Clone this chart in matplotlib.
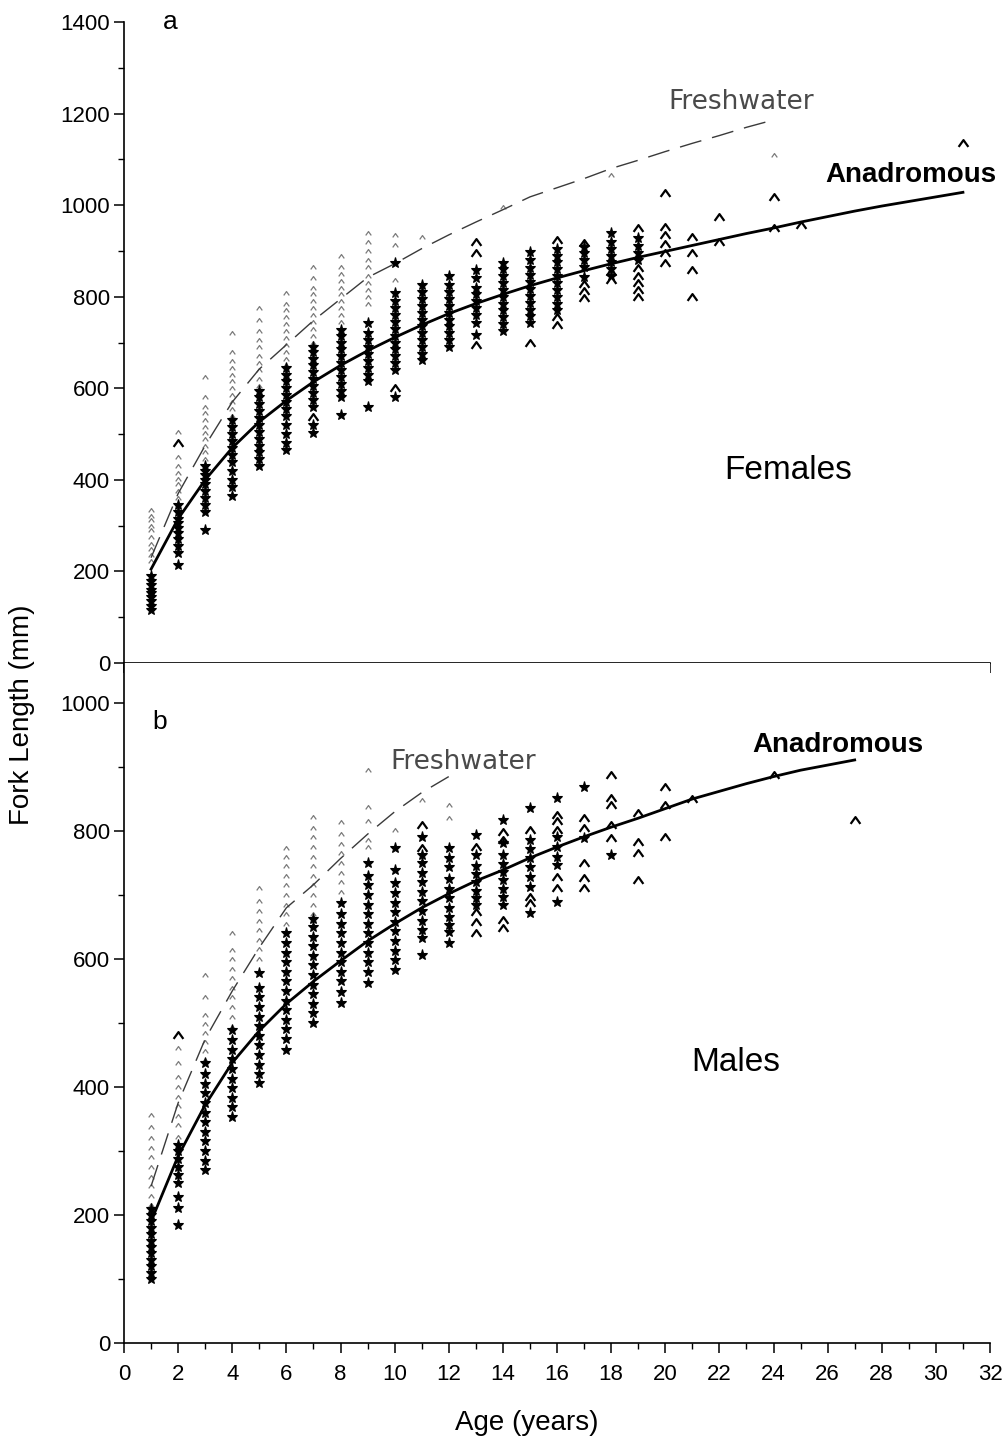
import matplotlib
matplotlib.use("Agg")
import matplotlib.pyplot as plt
from matplotlib.path import Path
from matplotlib.ticker import MultipleLocator

plt.rcParams['font.family'] = ['Liberation Sans', 'DejaVu Sans']

# ---------------- Females (panel a) ----------------
fem_star_ages = [1, 2, 3, 4, 5, 6, 7, 8, 9, 10, 11, 12, 13, 14, 15, 16, 17, 18, 19]
fem_star_vals = [
    [115, 125, 135, 145, 152, 160, 170, 180, 190],
    [215, 240, 255, 270, 285, 295, 305, 315, 330, 345],
    [290, 330, 345, 360, 375, 390, 400, 410, 420, 430],
    [365, 385, 400, 420, 440, 455, 470, 485, 500, 515, 530],
    [430, 445, 460, 475, 490, 505, 520, 535, 550, 565, 580, 595],
    [465, 480, 500, 520, 540, 555, 570, 585, 600, 615, 630, 645],
    [502, 520, 560, 575, 590, 605, 620, 635, 650, 665, 680, 690],
    [541, 580, 595, 610, 625, 640, 655, 670, 685, 700, 715, 728],
    [559, 615, 630, 645, 660, 675, 690, 705, 720, 742],
    [581, 640, 655, 670, 685, 700, 715, 730, 745, 760, 775, 790, 808, 873],
    [662, 675, 690, 705, 720, 735, 750, 765, 780, 795, 810, 825],
    [690, 705, 720, 735, 750, 765, 780, 795, 810, 825, 845],
    [716, 742, 760, 775, 790, 805, 820, 840, 858],
    [725, 740, 755, 770, 785, 800, 815, 830, 845, 860, 873],
    [742, 757, 772, 787, 802, 817, 832, 847, 862, 880, 897],
    [771, 785, 800, 815, 830, 845, 860, 875, 890, 905],
    [843, 865, 880, 895, 908],
    [845, 860, 875, 890, 905, 920, 939],
    [880, 895, 910, 928],
]
fem_caret_ages = [2, 7, 10, 13, 15, 16, 17, 18, 19, 20, 21, 22, 24, 25, 31]
fem_caret_vals = [
    [480], [537], [600], [694, 895, 919], [699], [738, 755, 923],
    [797, 812, 828, 917], [836, 855], [799, 815, 830, 845, 862, 950],
    [873, 895, 915, 935, 952, 1026], [799, 858, 895, 930], [919, 974],
    [950, 1017], [956], [1135],
]
fem_fresh_ages = [1, 2, 3, 4, 5, 6, 7, 8, 9, 10, 11, 14, 18, 24]
fem_fresh_vals = [
    [222, 235, 248, 260, 275, 290, 300, 312, 322, 335],
    [330, 345, 360, 375, 390, 402, 415, 430, 450, 505],
    [430, 445, 460, 475, 490, 502, 515, 530, 545, 560, 580, 625],
    [540, 555, 570, 585, 600, 615, 630, 645, 660, 680, 720],
    [590, 605, 620, 640, 655, 670, 690, 705, 725, 750, 775],
    [650, 665, 680, 695, 710, 725, 740, 755, 770, 785, 808],
    [700, 715, 730, 745, 760, 775, 790, 805, 820, 840, 865],
    [745, 760, 775, 790, 805, 820, 835, 850, 865, 890],
    [785, 800, 815, 830, 845, 865, 880, 900, 920, 940],
    [836, 913, 935], [930], [995], [1065], [1109],
]
fem_anad_curve_age = list(range(1, 32))
fem_anad_curve = [205, 315, 400, 470, 527, 573, 614, 650, 682, 711, 738, 763,
                  785, 805, 824, 841, 857, 872, 886, 899, 912, 925, 938, 950,
                  963, 975, 987, 998, 1008, 1018, 1028]
fem_fresh_curve_age = list(range(1, 25))
fem_fresh_curve = [230, 370, 475, 570, 642, 695, 748, 795, 842, 872, 905, 935,
                   963, 990, 1018, 1038, 1058, 1080, 1098, 1117, 1135, 1152,
                   1170, 1186]

# ---------------- Males (panel b) ----------------
male_star_ages = [1, 2, 3, 4, 5, 6, 7, 8, 9, 10, 11, 12, 13, 14, 15, 16, 17, 18]
male_star_vals = [
    [100, 110, 120, 130, 140, 150, 160, 170, 180, 190, 200, 210],
    [184, 211, 228, 250, 262, 275, 288, 300, 310],
    [270, 285, 300, 315, 330, 345, 360, 375, 390, 405, 420, 437],
    [353, 368, 383, 398, 413, 428, 443, 458, 473, 489],
    [406, 420, 435, 450, 465, 480, 495, 510, 525, 540, 555, 578],
    [458, 475, 490, 505, 520, 535, 550, 565, 580, 595, 610, 625, 640],
    [500, 515, 530, 545, 560, 575, 590, 605, 620, 635, 650, 662],
    [531, 548, 565, 580, 595, 610, 625, 640, 655, 670, 687],
    [562, 580, 595, 610, 625, 640, 655, 670, 685, 700, 715, 730, 750],
    [583, 598, 613, 628, 643, 658, 673, 688, 703, 718, 739, 773],
    [606, 633, 645, 660, 675, 690, 705, 720, 735, 750, 762, 791],
    [625, 642, 653, 665, 680, 695, 710, 725, 744, 758, 773],
    [684, 695, 707, 720, 733, 745, 762, 794],
    [684, 697, 710, 723, 736, 749, 762, 781, 817],
    [672, 713, 728, 743, 758, 772, 786, 836],
    [689, 747, 760, 775, 791, 851],
    [789, 869],
    [763],
]
male_caret_ages = [2, 11, 13, 14, 15, 16, 17, 18, 19, 20, 21, 24, 27]
male_caret_vals = [
    [481], [773, 809], [641, 658, 673, 775], [648, 661, 786, 798],
    [688, 697, 802], [711, 728, 802, 815, 825], [711, 727, 750, 805, 820],
    [789, 809, 841, 851, 888], [723, 766, 783, 828], [791, 841, 869],
    [850], [887], [817],
]
male_fresh_ages = [1, 2, 3, 4, 5, 6, 7, 8, 9, 10, 11, 12]
male_fresh_vals = [
    [215, 230, 245, 260, 275, 290, 305, 320, 338, 356],
    [322, 340, 355, 370, 385, 400, 415, 437, 461],
    [442, 456, 470, 484, 498, 512, 541, 575],
    [494, 510, 525, 540, 555, 570, 585, 600, 614, 640],
    [600, 615, 630, 645, 660, 675, 690, 711],
    [655, 670, 685, 700, 715, 730, 745, 760, 773],
    [670, 685, 700, 715, 730, 745, 760, 775, 790, 805, 822],
    [705, 720, 735, 750, 765, 780, 795, 814],
    [775, 786, 816, 838, 895],
    [802], [848], [820, 841],
]
male_anad_curve_age = list(range(1, 28))
male_anad_curve = [190, 292, 372, 438, 488, 530, 565, 597, 628, 655, 680, 702,
                   722, 739, 758, 775, 791, 806, 820, 835, 850, 862, 874, 885,
                   895, 903, 911]
male_fresh_curve_age = list(range(1, 13))
male_fresh_curve = [245, 375, 475, 550, 618, 680, 716, 757, 795, 830, 860, 885]

# open chevron marker
CARET = Path([(-1.0, -0.7), (0.0, 0.7), (1.0, -0.7)],
             [Path.MOVETO, Path.LINETO, Path.LINETO])


def flatten(ages, vals):
    xs, ys = [], []
    for a, vs in zip(ages, vals):
        xs.extend([a] * len(vs))
        ys.extend(vs)
    return xs, ys


def draw_panel(ax, star, caret, fresh, anad_curve, fresh_curve):
    x, y = flatten(*fresh)
    ax.plot(x, y, ls='none', marker=CARET, ms=4, mfc='none', mec='#7a7a7a',
            mew=0.9, zorder=2)
    x, y = flatten(*star)
    ax.plot(x, y, ls='none', marker='*', ms=8, color='black', mec='black',
            mew=0.8, zorder=3)
    x, y = flatten(*caret)
    ax.plot(x, y, ls='none', marker=CARET, ms=7, mfc='none', mec='black',
            mew=1.6, zorder=3)
    ax.plot(*fresh_curve, color='#3a3a3a', lw=1.0, dashes=(16, 8), zorder=4)
    ax.plot(*anad_curve, color='black', lw=2.0, zorder=5)


def style_axes(ax, ymax_ticks, show_xlabels):
    for side in ('top', 'right'):
        ax.spines[side].set_visible(False)
    for side in ('left', 'bottom'):
        ax.spines[side].set_linewidth(1.2)
    ax.set_xlim(0, 32)
    ax.xaxis.set_major_locator(MultipleLocator(2))
    ax.xaxis.set_minor_locator(MultipleLocator(1))
    ax.set_yticks(range(0, ymax_ticks + 1, 200))
    ax.set_yticks(range(100, ymax_ticks, 200), minor=True)
    ax.tick_params(which='major', direction='out', length=7, width=1.1,
                   labelsize=16, pad=3)
    ax.tick_params(which='minor', direction='out', length=4, width=1.0)
    if not show_xlabels:
        ax.tick_params(axis='x', labelbottom=False)
    else:
        ax.tick_params(axis='x', pad=8)


W, H = 1006, 1443
fig = plt.figure(figsize=(W / 100, H / 100), dpi=100)
x0, x1 = 124, 990
ax_a = fig.add_axes([x0 / W, 1 - 663 / H, (x1 - x0) / W, (663 - 22) / H])
ax_b = fig.add_axes([x0 / W, 1 - 1343 / H, (x1 - x0) / W, (1343 - 663) / H])

draw_panel(ax_a, (fem_star_ages, fem_star_vals), (fem_caret_ages, fem_caret_vals),
           (fem_fresh_ages, fem_fresh_vals),
           (fem_anad_curve_age, fem_anad_curve),
           (fem_fresh_curve_age, fem_fresh_curve))
draw_panel(ax_b, (male_star_ages, male_star_vals), (male_caret_ages, male_caret_vals),
           (male_fresh_ages, male_fresh_vals),
           (male_anad_curve_age, male_anad_curve),
           (male_fresh_curve_age, male_fresh_curve))

ax_a.set_ylim(0, 1400)
ax_b.set_ylim(0, 1000 * (1343 - 663) / (1343 - 703))
style_axes(ax_a, 1400, False)
style_axes(ax_b, 1000, True)

# panel annotations
ax_a.text(1.7, 1400, 'a', fontsize=19, ha='center', va='center')
ax_a.text(22.8, 1225, 'Freshwater', fontsize=19, ha='center', va='center',
          color='#4a4a4a', family='DejaVu Sans')
ax_a.text(32.25, 1065, 'Anadromous', fontsize=20, fontweight='bold',
          ha='right', va='center')
ax_a.text(24.55, 420, 'Females', fontsize=24, ha='center', va='center')

ax_b.text(1.3, 970, 'b', fontsize=19, ha='center', va='center')
ax_b.text(12.55, 908, 'Freshwater', fontsize=19, ha='center', va='center',
          color='#4a4a4a', family='DejaVu Sans')
ax_b.text(29.55, 935, 'Anadromous', fontsize=20, fontweight='bold',
          ha='right', va='center')
ax_b.text(22.6, 438, 'Males', fontsize=24, ha='center', va='center')

fig.text(22 / W, 1 - 715 / H, 'Fork Length (mm)', rotation=90, fontsize=20,
         ha='center', va='center')
fig.text(527 / W, 1 - 1423 / H, 'Age (years)', fontsize=20,
         ha='center', va='center')

fig.savefig('out.png', dpi=100)
